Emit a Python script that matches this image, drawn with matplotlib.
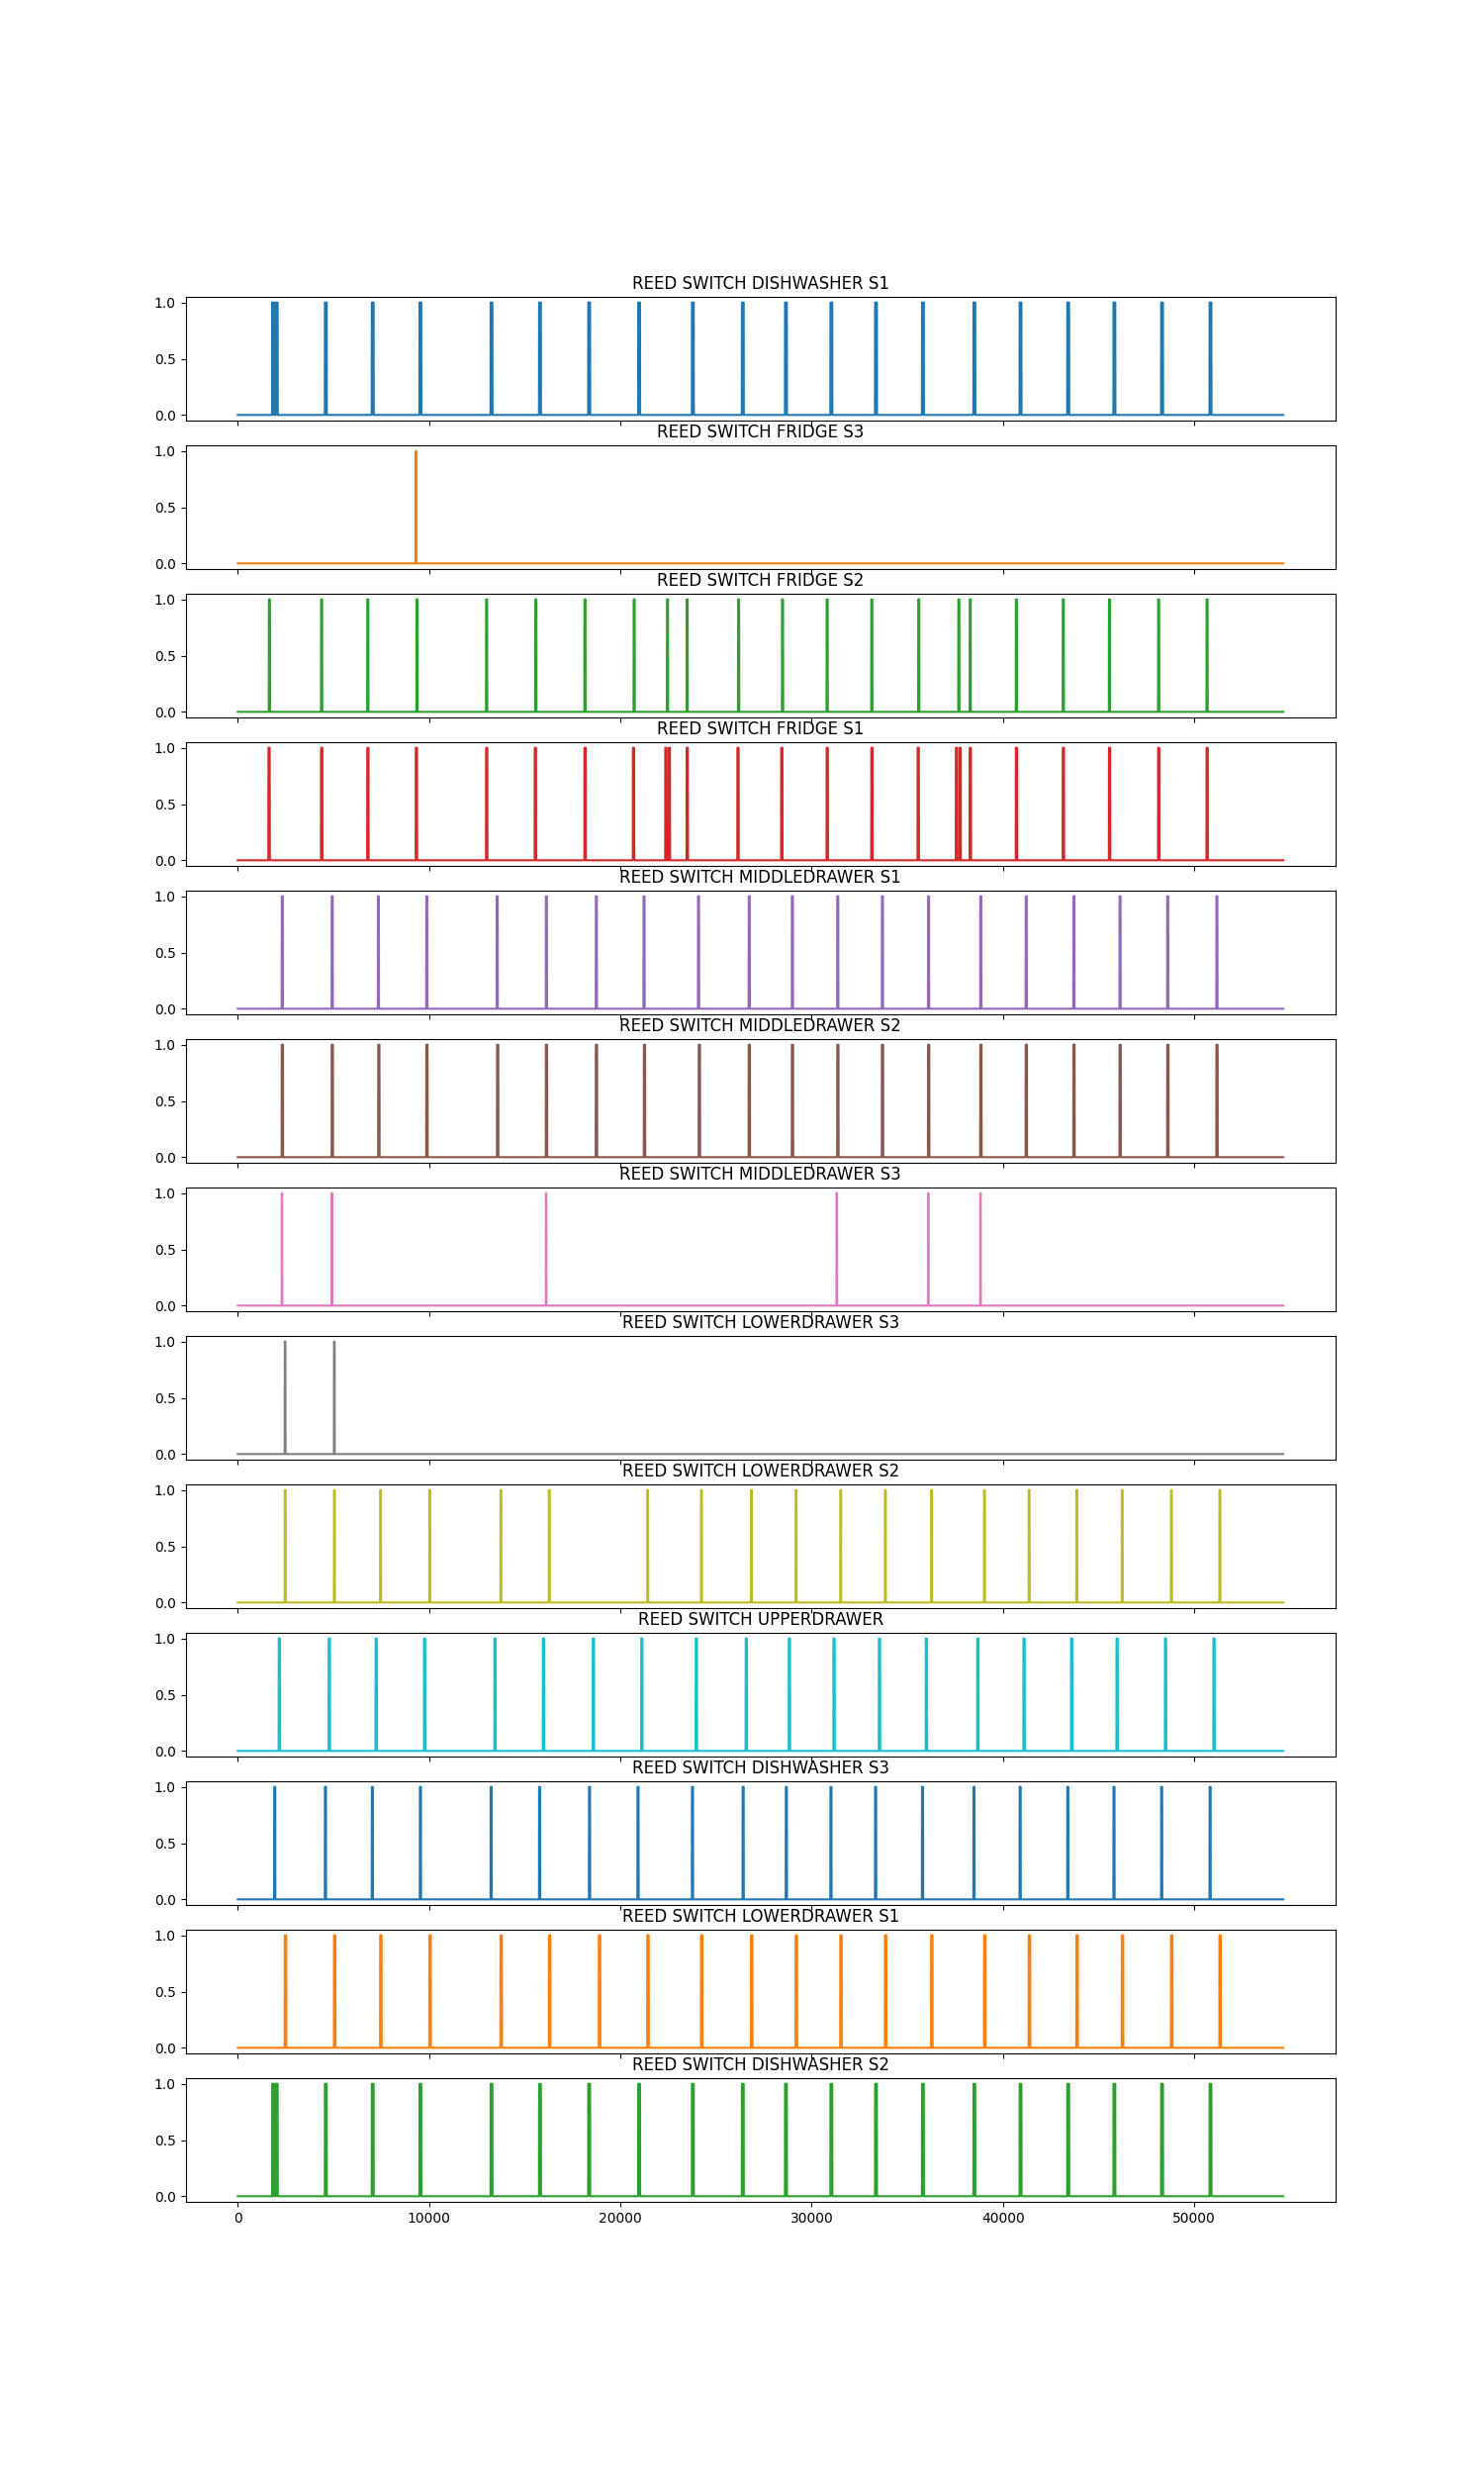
import numpy as np
import matplotlib
matplotlib.use("Agg")
import matplotlib.pyplot as plt

N_SAMPLES = 54650

titles = [
    "REED SWITCH DISHWASHER S1",
    "REED SWITCH FRIDGE S3",
    "REED SWITCH FRIDGE S2",
    "REED SWITCH FRIDGE S1",
    "REED SWITCH MIDDLEDRAWER S1",
    "REED SWITCH MIDDLEDRAWER S2",
    "REED SWITCH MIDDLEDRAWER S3",
    "REED SWITCH LOWERDRAWER S3",
    "REED SWITCH LOWERDRAWER S2",
    "REED SWITCH UPPERDRAWER",
    "REED SWITCH DISHWASHER S3",
    "REED SWITCH LOWERDRAWER S1",
    "REED SWITCH DISHWASHER S2",
]

dishwasher_s1 = [1790, 1985, 4549, 7002, 9494, 13212, 15744, 18315, 20926, 23734, 26345,
                 28600, 30973, 33307, 35759, 38449, 40862, 43354, 45767, 48259, 50791]
fridge_s3 = [9308]
fridge_s2 = [1622, 4351, 6764, 9335, 12975, 15546, 18117, 20688, 22429, 23457, 26147,
             28441, 30775, 33109, 35562, 37658, 38252, 40665, 43117, 45530, 48101, 50633]
fridge_s1 = [1600, 4351, 6764, 9300, 12975, 15520, 18117, 20650, 22340, 22520, 23457,
             26110, 28400, 30775, 33109, 35530, 37530, 37720, 38252, 40665, 43117, 45530,
             48101, 50633]
middledrawer_s1 = [2294, 4905, 7318, 9850, 13528, 16100, 18710, 21203, 24051, 26701, 28956,
                   31329, 33663, 36076, 38805, 41179, 43671, 46084, 48576, 51147]
middledrawer_s2 = [2294, 4905, 7337, 9850, 13548, 16100, 18710, 21223, 24090, 26701, 28956,
                   31329, 33663, 36076, 38805, 41179, 43671, 46084, 48576, 51147]
middledrawer_s3 = [2294, 4905, 16100, 31290, 36076, 38805]
lowerdrawer_s3 = [2453, 5024]
lowerdrawer_s2 = [2453, 5024, 7437, 10008, 13726, 16258, 21400, 24209, 26820, 29153, 31487,
                  33821, 36234, 39003, 41337, 43829, 46203, 48774, 51305]
upperdrawer = [2136, 4747, 7199, 9731, 13410, 15942, 18552, 21084, 23932, 26543, 28797,
               31131, 33505, 35957, 38647, 41060, 43552, 45926, 48457, 50989]
dishwasher_s3 = [1899, 4549, 7002, 9514, 13212, 15744, 18354, 20887, 23734, 26384, 28640,
                 30973, 33307, 35759, 38449, 40862, 43354, 45767, 48259, 50791]
lowerdrawer_s1 = [2453, 5024, 7437, 10008, 13726, 16258, 18869, 21400, 24209, 26820, 29153,
                  31487, 33821, 36234, 39003, 41337, 43829, 46203, 48774, 51305]
dishwasher_s2 = [1795, 1985, 4549, 7002, 9494, 13212, 15744, 18315, 20926, 23734, 26345,
                 28600, 30973, 33307, 35759, 38449, 40862, 43354, 45767, 48259, 50791]

event_starts = [dishwasher_s1, fridge_s3, fridge_s2, fridge_s1, middledrawer_s1,
                middledrawer_s2, middledrawer_s3, lowerdrawer_s3, lowerdrawer_s2,
                upperdrawer, dishwasher_s3, lowerdrawer_s1, dishwasher_s2]
# number of consecutive samples the switch stays at 1 per event
event_lengths = [100, 10, 60, 70, 60, 70, 30, 40, 50, 70, 60, 80, 100]

fig, axes = plt.subplots(len(titles), 1, figsize=(15, 25), sharex=True)
idx = np.arange(N_SAMPLES)
for i, (ax, title, starts, length) in enumerate(zip(axes, titles, event_starts, event_lengths)):
    y = np.zeros(N_SAMPLES)
    for s in starts:
        y[s:s + length] = 1.0
    ax.plot(idx, y, color=f"C{i % 10}")
    ax.set_title(title)

fig.savefig("out.png", dpi=100)
